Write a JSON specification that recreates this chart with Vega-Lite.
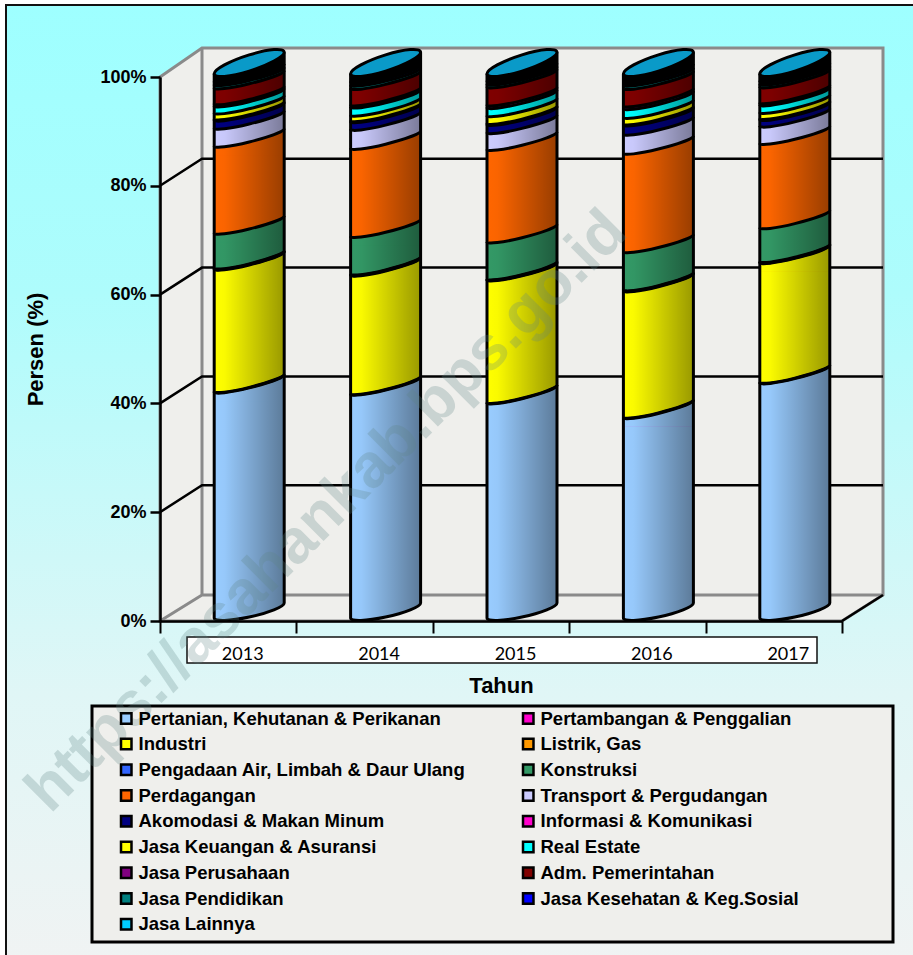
{
"$schema":"https://vega.github.io/schema/vega-lite/v6.json",
"width":682,"height":544,
"autosize":{"type":"none"},
"padding":{"left":160,"top":77,"right":71,"bottom":334},
"background":"#ffffff",
"config":{"view":{"stroke":null},"font":"Liberation Sans"},
"datasets":{
"anchor":[{"tahun":"2013","v1":0}],
"grid":[{"tahun":"2013","v1":20},{"tahun":"2013","v1":40},{"tahun":"2013","v1":60},{"tahun":"2013","v1":80}],
"mid":[{"tahun":"2014","v1":20.2}],
"pdrb":[
{"tahun":"2013","sektor":"Jasa Lainnya","urut":17,"persen":1.4},{"tahun":"2013","sektor":"Jasa Kesehatan & Keg.Sosial","urut":16,"persen":0.6},{"tahun":"2013","sektor":"Jasa Pendidikan","urut":15,"persen":0.6},{"tahun":"2013","sektor":"Adm. Pemerintahan","urut":14,"persen":2.9},{"tahun":"2013","sektor":"Jasa Perusahaan","urut":13,"persen":0.4},{"tahun":"2013","sektor":"Real Estate","urut":12,"persen":1.3},{"tahun":"2013","sektor":"Jasa Keuangan & Asuransi","urut":11,"persen":1.1},{"tahun":"2013","sektor":"Informasi & Komunikasi","urut":10,"persen":0.2},{"tahun":"2013","sektor":"Akomodasi & Makan Minum","urut":9,"persen":1.5},{"tahun":"2013","sektor":"Transport & Pergudangan","urut":8,"persen":3.3},{"tahun":"2013","sektor":"Perdagangan","urut":7,"persen":16.0},{"tahun":"2013","sektor":"Konstruksi","urut":6,"persen":6.4},{"tahun":"2013","sektor":"Pengadaan Air, Limbah & Daur Ulang","urut":5,"persen":0.1},{"tahun":"2013","sektor":"Listrik, Gas","urut":4,"persen":0.1},{"tahun":"2013","sektor":"Industri","urut":3,"persen":22.5},{"tahun":"2013","sektor":"Pertambangan & Penggalian","urut":2,"persen":0.1},{"tahun":"2013","sektor":"Pertanian, Kehutanan & Perikanan","urut":1,"persen":41.5},
{"tahun":"2014","sektor":"Jasa Lainnya","urut":17,"persen":1.4},{"tahun":"2014","sektor":"Jasa Kesehatan & Keg.Sosial","urut":16,"persen":0.7},{"tahun":"2014","sektor":"Jasa Pendidikan","urut":15,"persen":0.6},{"tahun":"2014","sektor":"Adm. Pemerintahan","urut":14,"persen":3.0},{"tahun":"2014","sektor":"Jasa Perusahaan","urut":13,"persen":0.4},{"tahun":"2014","sektor":"Real Estate","urut":12,"persen":1.5},{"tahun":"2014","sektor":"Jasa Keuangan & Asuransi","urut":11,"persen":1.0},{"tahun":"2014","sektor":"Informasi & Komunikasi","urut":10,"persen":0.2},{"tahun":"2014","sektor":"Akomodasi & Makan Minum","urut":9,"persen":1.4},{"tahun":"2014","sektor":"Transport & Pergudangan","urut":8,"persen":3.5},{"tahun":"2014","sektor":"Perdagangan","urut":7,"persen":16.2},{"tahun":"2014","sektor":"Konstruksi","urut":6,"persen":6.9},{"tahun":"2014","sektor":"Pengadaan Air, Limbah & Daur Ulang","urut":5,"persen":0.1},{"tahun":"2014","sektor":"Listrik, Gas","urut":4,"persen":0.1},{"tahun":"2014","sektor":"Industri","urut":3,"persen":21.8},{"tahun":"2014","sektor":"Pertambangan & Penggalian","urut":2,"persen":0.1},{"tahun":"2014","sektor":"Pertanian, Kehutanan & Perikanan","urut":1,"persen":41.1},
{"tahun":"2015","sektor":"Jasa Lainnya","urut":17,"persen":1.3},{"tahun":"2015","sektor":"Jasa Kesehatan & Keg.Sosial","urut":16,"persen":0.6},{"tahun":"2015","sektor":"Jasa Pendidikan","urut":15,"persen":0.5},{"tahun":"2015","sektor":"Adm. Pemerintahan","urut":14,"persen":3.3},{"tahun":"2015","sektor":"Jasa Perusahaan","urut":13,"persen":0.5},{"tahun":"2015","sektor":"Real Estate","urut":12,"persen":1.5},{"tahun":"2015","sektor":"Jasa Keuangan & Asuransi","urut":11,"persen":1.4},{"tahun":"2015","sektor":"Informasi & Komunikasi","urut":10,"persen":0.2},{"tahun":"2015","sektor":"Akomodasi & Makan Minum","urut":9,"persen":1.5},{"tahun":"2015","sektor":"Transport & Pergudangan","urut":8,"persen":3.1},{"tahun":"2015","sektor":"Perdagangan","urut":7,"persen":17.0},{"tahun":"2015","sektor":"Konstruksi","urut":6,"persen":6.8},{"tahun":"2015","sektor":"Pengadaan Air, Limbah & Daur Ulang","urut":5,"persen":0.1},{"tahun":"2015","sektor":"Listrik, Gas","urut":4,"persen":0.1},{"tahun":"2015","sektor":"Industri","urut":3,"persen":22.5},{"tahun":"2015","sektor":"Pertambangan & Penggalian","urut":2,"persen":0.1},{"tahun":"2015","sektor":"Pertanian, Kehutanan & Perikanan","urut":1,"persen":39.5},
{"tahun":"2016","sektor":"Jasa Lainnya","urut":17,"persen":1.4},{"tahun":"2016","sektor":"Jasa Kesehatan & Keg.Sosial","urut":16,"persen":0.7},{"tahun":"2016","sektor":"Jasa Pendidikan","urut":15,"persen":0.6},{"tahun":"2016","sektor":"Adm. Pemerintahan","urut":14,"persen":3.2},{"tahun":"2016","sektor":"Jasa Perusahaan","urut":13,"persen":0.5},{"tahun":"2016","sektor":"Real Estate","urut":12,"persen":1.6},{"tahun":"2016","sektor":"Jasa Keuangan & Asuransi","urut":11,"persen":1.2},{"tahun":"2016","sektor":"Informasi & Komunikasi","urut":10,"persen":0.2},{"tahun":"2016","sektor":"Akomodasi & Makan Minum","urut":9,"persen":1.7},{"tahun":"2016","sektor":"Transport & Pergudangan","urut":8,"persen":3.5},{"tahun":"2016","sektor":"Perdagangan","urut":7,"persen":18.1},{"tahun":"2016","sektor":"Konstruksi","urut":6,"persen":7.0},{"tahun":"2016","sektor":"Pengadaan Air, Limbah & Daur Ulang","urut":5,"persen":0.1},{"tahun":"2016","sektor":"Listrik, Gas","urut":4,"persen":0.1},{"tahun":"2016","sektor":"Industri","urut":3,"persen":23.2},{"tahun":"2016","sektor":"Pertambangan & Penggalian","urut":2,"persen":0.1},{"tahun":"2016","sektor":"Pertanian, Kehutanan & Perikanan","urut":1,"persen":36.8},
{"tahun":"2017","sektor":"Jasa Lainnya","urut":17,"persen":1.3},{"tahun":"2017","sektor":"Jasa Kesehatan & Keg.Sosial","urut":16,"persen":0.6},{"tahun":"2017","sektor":"Jasa Pendidikan","urut":15,"persen":0.5},{"tahun":"2017","sektor":"Adm. Pemerintahan","urut":14,"persen":2.9},{"tahun":"2017","sektor":"Jasa Perusahaan","urut":13,"persen":0.4},{"tahun":"2017","sektor":"Real Estate","urut":12,"persen":1.4},{"tahun":"2017","sektor":"Jasa Keuangan & Asuransi","urut":11,"persen":1.1},{"tahun":"2017","sektor":"Informasi & Komunikasi","urut":10,"persen":0.2},{"tahun":"2017","sektor":"Akomodasi & Makan Minum","urut":9,"persen":1.2},{"tahun":"2017","sektor":"Transport & Pergudangan","urut":8,"persen":3.2},{"tahun":"2017","sektor":"Perdagangan","urut":7,"persen":15.5},{"tahun":"2017","sektor":"Konstruksi","urut":6,"persen":6.2},{"tahun":"2017","sektor":"Pengadaan Air, Limbah & Daur Ulang","urut":5,"persen":0.1},{"tahun":"2017","sektor":"Listrik, Gas","urut":4,"persen":0.1},{"tahun":"2017","sektor":"Industri","urut":3,"persen":22.0},{"tahun":"2017","sektor":"Pertambangan & Penggalian","urut":2,"persen":0.1},{"tahun":"2017","sektor":"Pertanian, Kehutanan & Perikanan","urut":1,"persen":43.2}
]},
"encoding":{
"x":{"field":"tahun","type":"nominal","scale":{"type":"band","domain":["2013","2014","2015","2016","2017"],"paddingInner":0,"paddingOuter":0},
"axis":{"title":"Tahun","titleFontSize":22,"titleFontWeight":"bold","titleColor":"#000","titlePadding":12,"labelAngle":0,"labelFont":"Lato","labelFontSize":18,"labelColor":"#000","labelOffset":14,"labelPadding":12,"tickBand":"extent","tickSize":12,"tickWidth":2,"tickColor":"#000","domainColor":"#000","domainWidth":2.5,"grid":false,"zindex":1}},
"y":{"field":"v1","type":"quantitative","scale":{"domain":[0,100],"nice":false},
"axis":{"title":"Persen (%)","titleFontSize":22,"titleFontWeight":"bold","titleColor":"#000","titlePadding":52,"values":[0,20,40,60,80,100],"labelExpr":"datum.value + '%'","labelFontSize":18,"labelFontWeight":"bold","labelColor":"#000","labelPadding":4,"tickSize":10,"tickWidth":2.5,"tickColor":"#000","domainColor":"#000","domainWidth":2.5,"grid":false,"zindex":1}}
},
"layer":[
{"data":{"name":"anchor"},"mark":{"type":"point","filled":true,"opacity":1,"size":4,"stroke":"#111","strokeWidth":2,
 "fill":{"gradient":"linear","x1":0,"y1":0,"x2":0,"y2":1,"stops":[{"offset":0,"color":"#9effff"},{"offset":0.3,"color":"#aefcfc"},{"offset":0.72,"color":"#e0f6f6"},{"offset":1,"color":"#f0f3f3"}]},
 "shape":"M-222.2,-616L700,-616L700,340L-222.2,340Z"}},
{"data":{"name":"anchor"},"mark":{"type":"point","filled":true,"opacity":1,"size":4,"fill":"#efefec","stroke":"#8a8a8a","strokeWidth":3,
 "shape":"M-68.2,-544L-26.2,-573L654.8,-573L654.8,-26L613.8,0L-68.2,0Z"}},
{"data":{"name":"anchor"},"mark":{"type":"point","filled":false,"opacity":1,"size":4,"stroke":"#8a8a8a","strokeWidth":3,
 "shape":"M-26.2,-573L-26.2,-26L654.8,-26M-26.2,-26L-68.2,0"}},
{"data":{"name":"anchor"},"mark":{"type":"point","filled":false,"opacity":1,"size":4,"stroke":"#000","strokeWidth":2.5,"shape":"M613.8,0L654.8,-26"}},
{"data":{"name":"grid"},"mark":{"type":"point","filled":false,"opacity":1,"size":4,"stroke":"#000","strokeWidth":2.5,"shape":"M-68.2,0L-26.2,-27L654.8,-27"}},
{"data":{"name":"anchor"},"mark":{"type":"point","filled":true,"opacity":1,"size":4,"fill":"#ffffff","stroke":"#111","strokeWidth":1.5,"shape":"M-41.2,16L588.8,16L588.8,42L-41.2,42Z"}},
{"data":{"name":"anchor"},"mark":{"type":"point","filled":true,"opacity":1,"size":4,"fill":"#efefec","stroke":"#000","strokeWidth":3,"shape":"M-136.2,85L664.8,85L664.8,321L-136.2,321Z"}},
{"data":{"name":"pdrb"},
 "transform":[{"stack":"persen","groupby":["tahun"],"sort":[{"field":"urut","order":"ascending"}],"as":["v0","v1"]}],
 "layer":[
 {"transform":[{"filter":"datum.urut > 1"}],"mark":{"type":"bar","width":70,"xOffset":21},
  "encoding":{"y2":{"field":"v0"},"color":{"field":"sektor","type":"nominal",
   "scale":{"domain":["Pertanian, Kehutanan & Perikanan","Pertambangan & Penggalian","Industri","Listrik, Gas","Pengadaan Air, Limbah & Daur Ulang","Konstruksi","Perdagangan","Transport & Pergudangan","Akomodasi & Makan Minum","Informasi & Komunikasi","Jasa Keuangan & Asuransi","Real Estate","Jasa Perusahaan","Adm. Pemerintahan","Jasa Pendidikan","Jasa Kesehatan & Keg.Sosial","Jasa Lainnya"],
   "range":["#99ccff","#ff00cc","#ffff00","#ff9900","#3366ff","#339966","#ff6600","#ccccff","#000080","#ff00cc","#ffff00","#00ffff","#800080","#800000","#008080","#0000ff","#00ccff"]},
   "legend":{"title":null,"orient":"none","legendX":-43,"legendY":632,"direction":"horizontal","columns":2,"symbolType":"square","symbolSize":110,"symbolStrokeColor":"#000","symbolStrokeWidth":2.5,"symbolOpacity":1,"labelFontSize":18.5,"labelFontWeight":"bold","labelColor":"#000","labelOffset":3,"rowPadding":4.75,"columnPadding":52,"labelLimit":400,"zindex":1}}}},
 {"transform":[{"filter":"datum.urut == 1"}],"mark":{"type":"bar","width":70,"xOffset":21,"y2Offset":-18},
  "encoding":{"y2":{"field":"v0"},"color":{"field":"sektor","type":"nominal","legend":null}}},
 {"mark":{"type":"point","filled":true,"opacity":1,"size":4,"xOffset":21,"shape":"M-35,-3.2C-35,-.7-19.3,-2.57 0,-7.35C19.3,-12.13 35,-18 35,-20.5L35,6L-35,6Z"},
  "encoding":{"color":{"field":"sektor","type":"nominal","legend":null}}},
 {"transform":[{"filter":"datum.urut == 1"}],"mark":{"type":"point","filled":true,"opacity":1,"size":4,"xOffset":21,"shape":"M-35,-20L35,-20L35,-18C35,-14.4 19.3,-8.1 0,-4C-19.3,.1-35,.6-35,-3Z"},
  "encoding":{"y":{"field":"v0","type":"quantitative"},"color":{"field":"sektor","type":"nominal","legend":null}}},
 {"transform":[{"filter":"datum.urut == 1"}],"mark":{"type":"point","filled":true,"opacity":1,"size":4,"xOffset":21,"stroke":"#000","strokeWidth":3,
   "fill":{"gradient":"linear","x1":0,"y1":0,"x2":1,"y2":0,"stops":[{"offset":0,"color":"rgba(0,0,0,0)"},{"offset":0.15,"color":"rgba(0,0,0,0.02)"},{"offset":1,"color":"rgba(0,0,0,0.4)"}]},
   "shape":"M-35,-3C-35,.6-19.3,.1 0,-4C19.3,-8.1 35,-14.4 35,-18L35,-568.8C35,-564.3 19.3,-555.9 0,-549.9C-19.3,-543.9-35,-542.7-35,-547.2Z"},
  "encoding":{"y":{"field":"v0","type":"quantitative"}}},
 {"transform":[{"filter":"datum.urut < 17"}],"mark":{"type":"point","filled":false,"opacity":1,"size":4,"xOffset":21,"stroke":"#000","strokeWidth":3,"shape":"M-35,-3.2C-35,-.7-19.3,-2.57 0,-7.35C19.3,-12.13 35,-18 35,-20.5"}},
 {"transform":[{"filter":"datum.urut == 17"}],"mark":{"type":"point","filled":true,"opacity":1,"size":4,"xOffset":21,"fill":"#000","shape":"M-35,-3.2L-35,7.3C-35,9.8-19.3,7.93 0,3.15C19.3,-1.63 35,-7.5 35,-10L35,-24.8Z"}},
 {"transform":[{"filter":"datum.urut == 17"}],"mark":{"type":"point","filled":true,"opacity":1,"size":4,"xOffset":21,"fill":"#0a9ac8","stroke":"#000","strokeWidth":3,"shape":"M-35,-3.2C-35,1.3-19.3,.1 0,-5.9C19.3,-11.9 35,-20.3 35,-24.8C35,-29.3 19.3,-28.1 0,-22.1C-19.3,-16.1-35,-7.7-35,-3.2Z"}}
 ]},
{"data":{"name":"mid"},"mark":{"type":"text","text":"https://asahankab.bps.go.id","angle":-45,"align":"center","baseline":"middle","fontSize":62,"fontWeight":"bold","fill":"#5f8585","opacity":0.26,"xOffset":-38}}
]
}
